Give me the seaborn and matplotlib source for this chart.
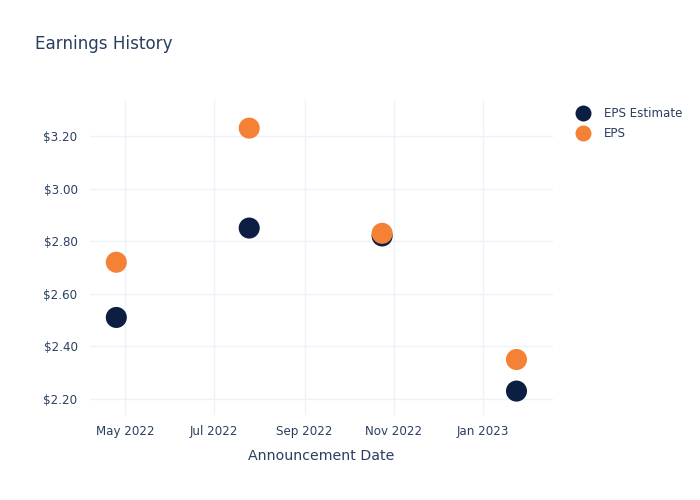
import matplotlib
matplotlib.use("Agg")
import matplotlib.pyplot as plt
import matplotlib.dates as mdates
import seaborn as sns
import pandas as pd
import numpy as np

dates = ["2022-04-25", "2022-07-25", "2022-10-24", "2023-01-24"]
eps_estimate = [2.51, 2.85, 2.82, 2.23]
eps_actual = [2.72, 3.23, 2.83, 2.35]
series_names = ["EPS Estimate", "EPS"]
colors = ["#0c1f42", "#f58137"]

df = pd.DataFrame({
    "date": pd.to_datetime(dates * 2),
    "value": eps_estimate + eps_actual,
    "series": [series_names[0]] * len(dates) + [series_names[1]] * len(dates),
})

sns.set_theme(style="white")
plt.rcParams['font.family'] = ['DejaVu Sans']
text_color = "#2a3f5f"
grid_color = "#eef2f9"

fig = plt.figure(figsize=(7, 5), dpi=100)
ax = fig.add_axes([0.1286, 0.17, 0.79 - 0.1286, 0.63])

sns.scatterplot(data=df, x="date", y="value", hue="series", hue_order=series_names,
                palette=colors, s=230, linewidth=0, ax=ax, legend=False, zorder=3)

ax.set_xlim(pd.Timestamp("2022-04-07"), pd.Timestamp("2023-02-18"))
ax.set_ylim(2.139, 3.337)
ax.set_yticks([2.2, 2.4, 2.6, 2.8, 3.0, 3.2])
ax.yaxis.set_major_formatter(matplotlib.ticker.FuncFormatter(lambda v, p: f"${v:.2f}"))
ax.xaxis.set_major_locator(mdates.MonthLocator(bymonth=[1, 3, 5, 7, 9, 11]))
ax.xaxis.set_major_formatter(mdates.DateFormatter("%b %Y"))

ax.grid(True, color=grid_color, linewidth=1)
ax.set_axisbelow(True)
for sp in ax.spines.values():
    sp.set_visible(False)
ax.tick_params(axis="both", length=0, labelsize=8.6, colors=text_color)
ax.tick_params(axis="y", pad=9)
ax.tick_params(axis="x", pad=7)
ax.set_xlabel("Announcement Date", fontsize=10.2, color=text_color, labelpad=8)
ax.set_ylabel("")

fig.text(0.05, 0.912, "Earnings History", fontsize=12.1, color=text_color, va="center", ha="left")

handles = [plt.Line2D([], [], marker="o", linestyle="", markersize=11.5,
                      markerfacecolor=c, markeredgewidth=0) for c in colors]
leg = fig.legend(handles, series_names, loc="upper left", bbox_to_anchor=(0.823, 0.786),
                 frameon=False, fontsize=8.6, handletextpad=1.15, labelspacing=0.58,
                 handlelength=1.2, borderaxespad=0, borderpad=0)
for t in leg.get_texts():
    t.set_color(text_color)

fig.savefig("out.png", dpi=100, facecolor="white")
